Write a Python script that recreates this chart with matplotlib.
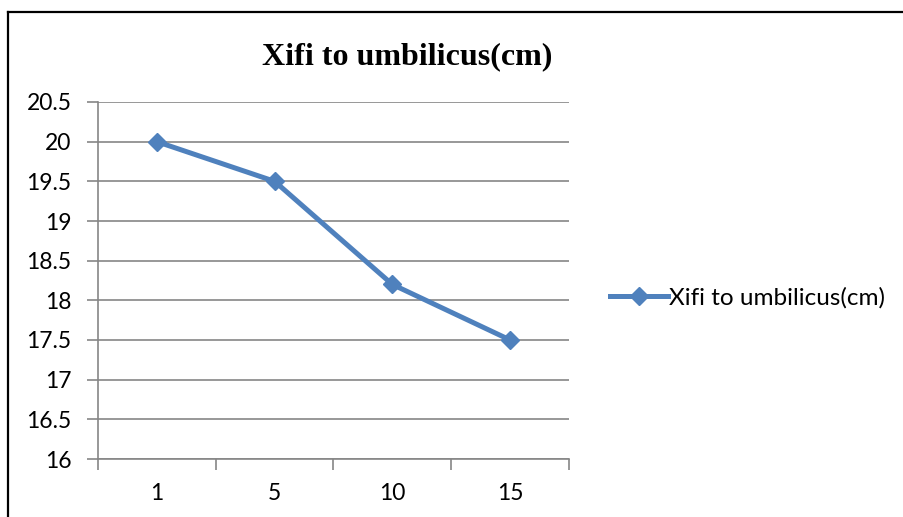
import matplotlib
matplotlib.use("Agg")
import matplotlib.pyplot as plt
from matplotlib.lines import Line2D

categories = ["1", "5", "10", "15"]
values = [20.0, 19.5, 18.2, 17.5]
series_name = "Xifi to umbilicus(cm)"
title = "Xifi to umbilicus(cm)"
y_ticks = [16, 16.5, 17, 17.5, 18, 18.5, 19, 19.5, 20, 20.5]
y_tick_labels = ["16", "16.5", "17", "17.5", "18", "18.5", "19", "19.5", "20", "20.5"]

W, H = 904, 517
fig = plt.figure(figsize=(W / 100, H / 100), dpi=100)
ax = fig.add_axes([98 / W, 1 - 459 / H, (569 - 98) / W, (459 - 102) / H])

blue = "#4F81BD"
grid = "#868686"
font = "Lato"

x = list(range(len(categories)))
ax.plot(x, values, color=blue, lw=3.6, marker="D", ms=9, mfc=blue, mec=blue,
        label=series_name, solid_joinstyle="round", zorder=3)

ax.set_xlim(-0.5, len(categories) - 0.5)
ax.set_ylim(16, 20.5)
ax.set_yticks(y_ticks)
ax.set_yticklabels(y_tick_labels, fontfamily=font, fontsize=16.5)
ax.set_xticks([i - 0.5 for i in range(len(categories) + 1)])
ax.set_xticklabels([])
ax.set_xticks(x, minor=True)
ax.set_xticklabels(categories, minor=True, fontfamily=font, fontsize=16.5)
ax.tick_params(axis="x", which="minor", length=0, pad=17)
ax.tick_params(axis="x", which="major", length=8, width=1.2, color=grid, direction="out")
ax.tick_params(axis="y", length=8, width=1.2, color=grid, direction="out", pad=11)

ax.yaxis.grid(True, color=grid, lw=1.2)
ax.set_axisbelow(True)
for s in ["top", "right"]:
    ax.spines[s].set_visible(False)
for s in ["left", "bottom"]:
    ax.spines[s].set_color(grid)
    ax.spines[s].set_linewidth(1.2)

fig.text(407 / W, 1 - 57 / H, title, ha="center", va="center",
         fontfamily="Liberation Serif", fontweight="bold", fontsize=23)

handle = Line2D([0], [0], color=blue, lw=3.6, marker="D", ms=9, mfc=blue, mec=blue)
fig.legend([handle], [series_name], loc="center left",
           bbox_to_anchor=(600 / W, 1 - 298 / H), frameon=False,
           prop={"family": font, "size": 17.5}, handlelength=2.4, handletextpad=0.05,
           borderaxespad=0)

# outer chart border (only top and left visible in the crop)
fig.add_artist(Line2D([8 / W, 8 / W], [0, 1 - 12 / H], color="black", lw=1.6,
                      transform=fig.transFigure))
fig.add_artist(Line2D([8 / W, 1], [1 - 12 / H, 1 - 12 / H], color="black", lw=1.6,
                      transform=fig.transFigure))

fig.savefig("out.png", dpi=100)
